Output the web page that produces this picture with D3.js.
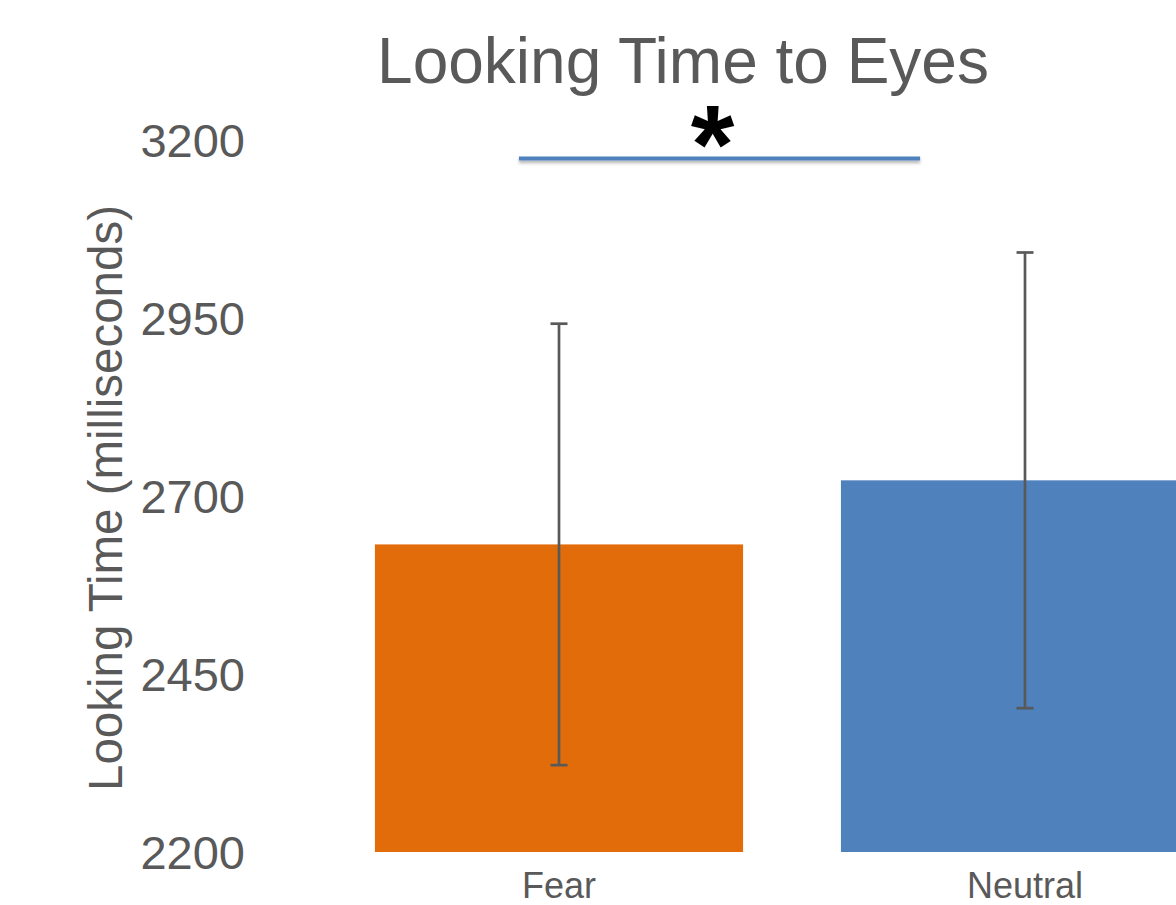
<!DOCTYPE html>
<html>
<head>
<meta charset="utf-8">
<script src="https://cdn.jsdelivr.net/npm/d3@7"></script>
<style>
  html, body { margin: 0; padding: 0; background: #ffffff; overflow: hidden; }
  svg { display: block; font-family: "Liberation Sans", Arial, sans-serif; }
</style>
</head>
<body>
<svg id="chart" width="1176" height="905"></svg>
<script>
// ---- data ----
const categories = ["Fear", "Neutral"];
const means = [2632, 2722];
const errors = [310, 320];
const barColors = ["#E36C0A", "#4F81BD"];
const yTicks = [2200, 2450, 2700, 2950, 3200];
const yDomain = [2200, 3200];
const title = "Looking Time to Eyes";
const yTitle = "Looking Time (milliseconds)";
// significance bracket: positions in category-index units, level in ms
const sigFrom = -0.086;
const sigTo = 0.775;
const sigLevel = 3174;
const sigLabel = "*";

// ---- layout ----
const svg = d3.select("#chart");
const textColor = "#595959";

const x = d3.scaleBand()
  .domain(categories)
  .range([326, 1258])
  .paddingInner(0.21)
  .paddingOuter(0.105);

const y = d3.scaleLinear().domain(yDomain).range([852, 140]);

// index -> pixel (center of bands)
const xi = d3.scaleLinear()
  .domain([0, 1])
  .range([x(categories[0]) + x.bandwidth() / 2, x(categories[1]) + x.bandwidth() / 2]);

// shadow filter for significance line
const defs = svg.append("defs");
const f = defs.append("filter").attr("id", "shadow")
  .attr("filterUnits", "userSpaceOnUse")
  .attr("x", 0).attr("y", 0).attr("width", 1176).attr("height", 905);
f.append("feDropShadow").attr("dx", 0).attr("dy", 2.5).attr("stdDeviation", 1.6)
  .attr("flood-color", "#000").attr("flood-opacity", 0.3);

// title
svg.append("text")
  .attr("x", 683).attr("y", 83)
  .attr("text-anchor", "middle")
  .attr("font-size", 64)
  .attr("fill", textColor)
  .text(title);

// y axis (labels only)
const yAxis = d3.axisLeft(y).tickValues(yTicks).tickFormat(d3.format("d")).tickSize(0).tickPadding(0);
const gy = svg.append("g").attr("transform", "translate(245,0)").call(yAxis);
gy.select(".domain").remove();
gy.selectAll("text")
  .attr("font-size", 47)
  .attr("fill", textColor)
  .attr("font-family", "Liberation Sans, Arial, sans-serif")
  .attr("dy", "0.35em");

// y title
svg.append("text")
  .attr("transform", "translate(122,498) rotate(-90)")
  .attr("text-anchor", "middle")
  .attr("font-size", 47.5)
  .attr("fill", textColor)
  .text(yTitle);

// bars
const data = categories.map((c, i) => ({ c, m: means[i], e: errors[i], col: barColors[i] }));
svg.append("g").selectAll("rect").data(data).join("rect")
  .attr("x", d => x(d.c))
  .attr("width", x.bandwidth())
  .attr("y", d => y(d.m))
  .attr("height", d => y(yDomain[0]) - y(d.m))
  .attr("fill", d => d.col);

// error bars
const eg = svg.append("g").attr("stroke", "#595959").attr("stroke-width", 2.7);
data.forEach(d => {
  const cx = x(d.c) + x.bandwidth() / 2;
  eg.append("line").attr("x1", cx).attr("x2", cx).attr("y1", y(d.m + d.e)).attr("y2", y(d.m - d.e));
  eg.append("line").attr("x1", cx - 8.5).attr("x2", cx + 8.5).attr("y1", y(d.m + d.e)).attr("y2", y(d.m + d.e));
  eg.append("line").attr("x1", cx - 8.5).attr("x2", cx + 8.5).attr("y1", y(d.m - d.e)).attr("y2", y(d.m - d.e));
});

// x labels
const xAxis = d3.axisBottom(x).tickSize(0).tickPadding(0);
const gx = svg.append("g").attr("transform", "translate(0,898)").call(xAxis);
gx.select(".domain").remove();
gx.selectAll("text")
  .attr("font-size", 36)
  .attr("fill", textColor)
  .attr("font-family", "Liberation Sans, Arial, sans-serif")
  .attr("dy", 0);

// significance bracket
svg.append("line")
  .attr("x1", xi(sigFrom)).attr("x2", xi(sigTo))
  .attr("y1", y(sigLevel)).attr("y2", y(sigLevel))
  .attr("stroke", "#4F81BD").attr("stroke-width", 4)
  .attr("filter", "url(#shadow)");

svg.append("text")
  .attr("x", (xi(sigFrom) + xi(sigTo)) / 2 - 7)
  .attr("y", 183)
  .attr("text-anchor", "middle")
  .attr("font-size", 112)
  .attr("font-weight", "bold")
  .attr("fill", "#000")
  .text(sigLabel);
</script>
</body>
</html>
